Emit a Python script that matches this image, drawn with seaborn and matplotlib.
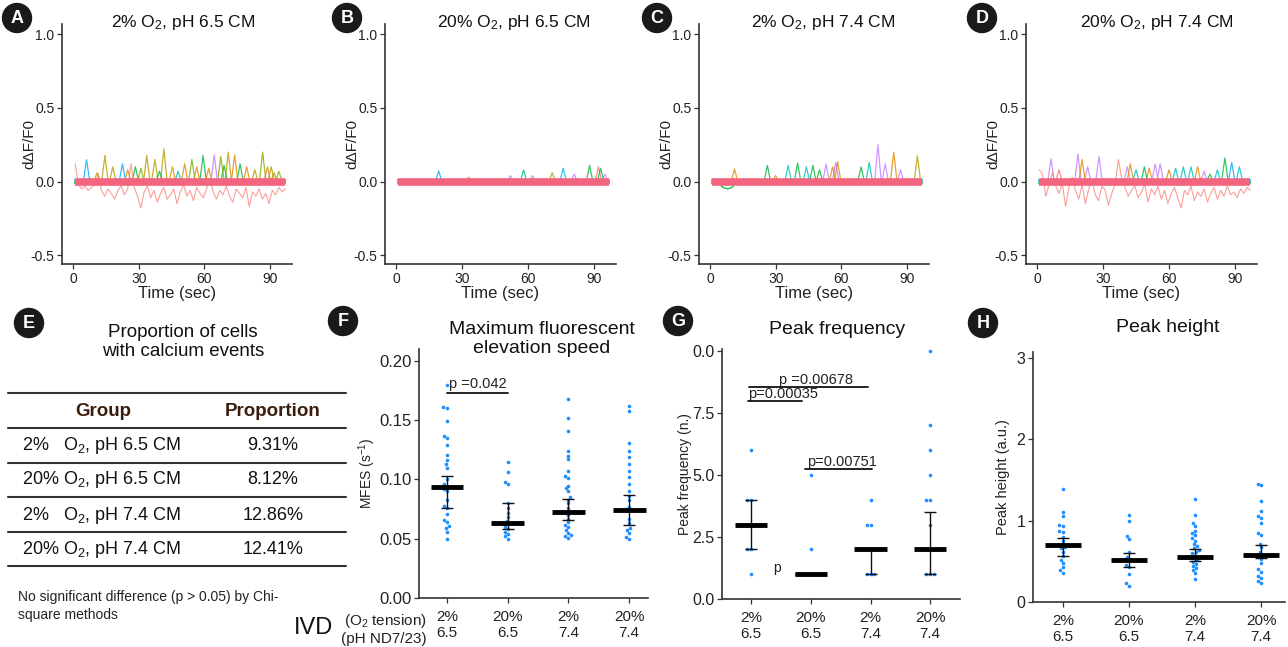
import numpy as np
import pandas as pd
import matplotlib
matplotlib.use("Agg")
import matplotlib.pyplot as plt
from matplotlib.patches import Circle
from matplotlib import font_manager
import seaborn as sns

# ---------------- data ----------------
trace_titles = ["2% O$_2$, pH 6.5 CM", "20% O$_2$, pH 6.5 CM", "2% O$_2$, pH 7.4 CM", "20% O$_2$, pH 7.4 CM"]
trace_letters = ["A", "B", "C", "D"]

# noisy salmon traces (A and D), sampled over 1..97 s
red_A = [0.12, -0.02, -0.05, -0.03, -0.06, -0.04, -0.02, 0.05, -0.06, -0.10, -0.05, -0.08, -0.12,
         -0.06, -0.03, -0.09, -0.05, 0.12, -0.04, -0.10, -0.18, -0.07, -0.03, -0.11, -0.06, -0.14,
         -0.08, -0.04, -0.12, -0.09, -0.05, -0.15, -0.07, -0.02, -0.10, -0.06, -0.13, -0.04, -0.08,
         -0.11, -0.05, 0.02, -0.07, -0.12, -0.06, -0.09, -0.03, -0.10, -0.14, -0.05, -0.08, -0.11,
         -0.04, -0.17, -0.07, -0.10, -0.05, -0.12, -0.08, -0.15, -0.06, -0.09, -0.04, -0.07, -0.05]
red_D = [0.08, 0.05, -0.10, -0.02, 0.06, -0.03, -0.08, -0.01, -0.17, -0.04, 0.03, -0.06, -0.12,
         -0.02, -0.15, -0.05, 0.01, -0.09, -0.13, -0.03, -0.06, -0.16, -0.08, -0.02, 0.15, 0.02,
         -0.04, -0.10, -0.06, -0.03, -0.11, -0.07, -0.02, -0.14, -0.05, -0.09, -0.03, -0.12, -0.06,
         -0.15, -0.08, -0.04, -0.11, -0.18, -0.06, -0.09, -0.03, -0.13, -0.07, -0.10, -0.05, -0.14,
         -0.08, -0.04, -0.12, -0.06, -0.10, -0.03, -0.09, -0.07, -0.11, -0.05, -0.08, -0.04, -0.06]

# calcium spikes: (time s, peak dF/F0, colour)
spikes_A = [(6.2, 0.148, "#00A9FF"), (14.6, 0.177, "#B79F00"), (18.2, 0.10, "#B79F00"),
            (22.6, 0.12, "#00A9FF"), (28.5, 0.10, "#00BA38"), (33.7, 0.177, "#B79F00"),
            (37.4, 0.15, "#B79F00"), (41.5, 0.222, "#B79F00"), (45.4, 0.10, "#E58700"),
            (51.0, 0.12, "#E58700"), (54.3, 0.15, "#7CAE00"), (56.5, 0.10, "#E58700"),
            (59.4, 0.177, "#00BA38"), (64.5, 0.18, "#C77CFF"), (67.5, 0.17, "#7CAE00"),
            (70.9, 0.20, "#B79F00"), (73.8, 0.18, "#E58700"), (76.3, 0.12, "#00BA38"),
            (79.3, 0.10, "#E58700"), (86.6, 0.20, "#7CAE00"), (88.8, 0.10, "#E58700"),
            (91.8, 0.06, "#B79F00"), (11.0, 0.06, "#B79F00"), (48.0, 0.07, "#00BFC4"),
            (25.0, 0.08, "#E58700"), (31.0, 0.09, "#7CAE00"), (39.5, 0.07, "#00BA38"),
            (62.0, 0.09, "#E58700"), (69.0, 0.11, "#00BA38"), (83.0, 0.08, "#B79F00"),
            (90.5, 0.10, "#B79F00"), (94.0, 0.07, "#7CAE00")]
spikes_B = [(19.4, 0.073, "#00B4F0"), (33.0, 0.03, "#F8766D"), (52.0, 0.04, "#C77CFF"),
            (58.0, 0.08, "#00C08B"), (62.0, 0.04, "#C77CFF"), (71.0, 0.06, "#B79F00"),
            (76.0, 0.09, "#00B4F0"), (81.0, 0.05, "#C77CFF"), (88.0, 0.11, "#00BA38"),
            (92.0, 0.10, "#F8766D"), (93.0, 0.09, "#00BA38"), (95.0, 0.05, "#C77CFF")]
spikes_C = [(11.2, 0.086, "#E58700"), (26.2, 0.11, "#00BA38"), (30.0, 0.04, "#E58700"),
            (35.7, 0.11, "#00BFC4"), (40.0, 0.125, "#00BA38"), (44.0, 0.10, "#00BFC4"),
            (47.0, 0.11, "#00BA38"), (50.0, 0.08, "#00BA38"), (53.0, 0.12, "#C77CFF"),
            (56.0, 0.10, "#B79F00"), (57.4, 0.13, "#F564E3"), (58.3, 0.135, "#B79F00"),
            (69.0, 0.10, "#00BA38"), (72.7, 0.13, "#00BFC4"), (76.7, 0.25, "#C77CFF"),
            (80.0, 0.12, "#C77CFF"), (83.9, 0.20, "#E58700"), (87.0, 0.08, "#C77CFF"),
            (94.7, 0.175, "#B79F00")]
spikes_D = [(6.4, 0.154, "#C77CFF"), (10.0, 0.08, "#F8766D"), (18.6, 0.188, "#C77CFF"),
            (20.5, 0.15, "#E58700"), (23.0, 0.10, "#C77CFF"), (28.2, 0.17, "#C77CFF"),
            (41.0, 0.10, "#C77CFF"), (42.4, 0.12, "#E58700"), (48.8, 0.10, "#00BA38"),
            (53.7, 0.12, "#C77CFF"), (56.0, 0.12, "#C77CFF"), (60.0, 0.08, "#E58700"),
            (66.5, 0.10, "#00BFC4"), (70.0, 0.10, "#00BFC4"), (73.0, 0.10, "#E58700"),
            (78.6, 0.05, "#00BA38"), (82.0, 0.08, "#00BFC4"), (85.4, 0.16, "#00BA38"),
            (88.5, 0.13, "#00A9FF"), (92.0, 0.10, "#00BFC4"), (45.0, 0.08, "#00BFC4"),
            (51.0, 0.09, "#E58700"), (63.0, 0.09, "#00BFC4"), (76.0, 0.07, "#C77CFF")]
spike_sets = [spikes_A, spikes_B, spikes_C, spikes_D]
red_sets = [red_A, None, None, red_D]
dip_C = [(3.0, 0.0), (6.0, -0.04), (8.0, -0.05), (10.0, -0.04), (12.0, -0.01)]

# E table
table_groups = ["2%   O$_2$, pH 6.5 CM", "20% O$_2$, pH 6.5 CM", "2%   O$_2$, pH 7.4 CM", "20% O$_2$, pH 7.4 CM"]
table_props = ["9.31%", "8.12%", "12.86%", "12.41%"]

# F, G, H groups
groups = ["2%\n6.5", "20%\n6.5", "2%\n7.4", "20%\n7.4"]

mfes_1 = [0.180, 0.161, 0.160, 0.149, 0.137, 0.135, 0.129, 0.121, 0.116, 0.113, 0.110, 0.100,
          0.096, 0.094, 0.092, 0.090, 0.083, 0.078, 0.076, 0.071, 0.066, 0.064, 0.061, 0.059,
          0.056, 0.050]
mfes_2 = [0.115, 0.106, 0.098, 0.096, 0.080, 0.076, 0.072, 0.068, 0.065, 0.063, 0.062, 0.060,
          0.058, 0.056, 0.054, 0.052, 0.050]
mfes_3 = [0.168, 0.152, 0.141, 0.124, 0.120, 0.117, 0.107, 0.103, 0.1015, 0.0945, 0.0926,
          0.0906, 0.0855, 0.083, 0.080, 0.076, 0.073, 0.072, 0.070, 0.067, 0.064, 0.0616,
          0.0597, 0.0574, 0.0551, 0.053, 0.052, 0.051]
mfes_4 = [0.162, 0.158, 0.1305, 0.124, 0.119, 0.113, 0.107, 0.102, 0.096, 0.0906, 0.0864,
          0.083, 0.077, 0.075, 0.073, 0.067, 0.063, 0.059, 0.057, 0.0546, 0.0517, 0.0498]
mfes_mid = [0.094, 0.063, 0.0726, 0.0745]
mfes_lo = [0.076, 0.058, 0.066, 0.0613]
mfes_hi = [0.103, 0.080, 0.0835, 0.0867]

freq_1 = [6, 4, 4, 3, 3, 3, 2, 2, 1]
freq_2 = [5, 2, 1, 1, 1, 1, 1, 1, 1, 1]
freq_3 = [4, 3, 3, 2, 2, 2, 2, 2, 2, 1, 1, 1]
freq_4 = [10, 7, 6, 5, 4, 4, 3, 2, 2, 2, 2, 2, 1, 1, 1]
freq_mid = [3, 1, 2, 2]
freq_lo = [2, 1, 1, 1]
freq_hi = [4, 1, 2, 3.5]

height_1 = [1.386, 1.103, 1.05, 0.947, 0.935, 0.877, 0.861, 0.803, 0.754, 0.701, 0.68, 0.66,
            0.619, 0.566, 0.517, 0.476, 0.427, 0.394, 0.361]
height_2 = [1.07, 1.0, 0.81, 0.77, 0.62, 0.55, 0.51, 0.455, 0.435, 0.344, 0.23, 0.197]
height_3 = [1.263, 1.07, 0.968, 0.935, 0.877, 0.853, 0.824, 0.783, 0.754, 0.713, 0.689, 0.66,
            0.64, 0.619, 0.599, 0.566, 0.557, 0.537, 0.517, 0.496, 0.467, 0.443, 0.414, 0.394,
            0.361, 0.279]
height_4 = [1.447, 1.431, 1.242, 1.119, 1.05, 1.03, 0.976, 0.845, 0.824, 0.713, 0.672, 0.619,
            0.578, 0.55, 0.525, 0.476, 0.402, 0.373, 0.32, 0.291, 0.262, 0.237]
height_mid = [0.697, 0.513, 0.557, 0.578]
height_lo = [0.566, 0.427, 0.508, 0.537]
height_hi = [0.783, 0.599, 0.652, 0.705]

# ---------------- style ----------------
sns.set_theme(style="ticks")
names = {f.name for f in font_manager.fontManager.ttflist}
MAIN = "Liberation Sans" if "Liberation Sans" in names else "DejaVu Sans"
NARROW = "Liberation Sans Narrow" if "Liberation Sans Narrow" in names else MAIN
plt.rcParams["font.family"] = [MAIN, "DejaVu Sans"]
plt.rcParams["mathtext.fontset"] = "custom"
plt.rcParams["mathtext.rm"] = MAIN
plt.rcParams["mathtext.it"] = MAIN
plt.rcParams["mathtext.default"] = "regular"

W, H = 1288, 647
fig = plt.figure(figsize=(W / 100, H / 100), dpi=100)
fig.patch.set_facecolor("white")

ov = fig.add_axes([0, 0, 1, 1])
ov.set_xlim(0, W)
ov.set_ylim(H, 0)
ov.axis("off")
ov.set_zorder(10)

DARK = "#222222"


def add_ax(l, r, t, b):
    a = fig.add_axes([l / W, 1 - b / H, (r - l) / W, (b - t) / H])
    a.patch.set_alpha(0)
    return a


def style_ax(ax, size):
    sns.despine(ax=ax)
    for s in ["left", "bottom"]:
        ax.spines[s].set_linewidth(1.2)
        ax.spines[s].set_color("#333333")
    ax.tick_params(direction="out", length=3.5, width=0.9, colors="#333333",
                   labelsize=size, labelcolor=DARK, pad=2)


def letter(x, y, s):
    ov.add_patch(Circle((x, y), 14.5, color="#1a1a1a", zorder=5))
    ov.text(x, y + 0.5, s, color="white", fontsize=13, fontweight="bold",
            ha="center", va="center", zorder=6)


# ---------------- top row: traces ----------------
top_lr = [(62, 292), (385, 616), (699, 929), (1026, 1257)]
title_x = [183, 514, 823, 1157]
letter_x = [17, 347, 657, 982]
for i in range(4):
    l, r = top_lr[i]
    ax = add_ax(l, r, 24, 264)
    ax.plot([1, 97], [-0.012, -0.012], color="#00BA38", lw=1.6, alpha=0.8, zorder=1)
    ax.plot([1, 97], [0.012, 0.012], color="#00A9FF", lw=1.6, alpha=0.8, zorder=1)
    by_col = {}
    for t, h, c in spike_sets[i]:
        by_col.setdefault(c, []).append((t, h))
    for c, lst in by_col.items():
        lst.sort()
        xs, ys = [1.0], [0.0]
        for t, h in lst:
            xs += [t - 1.5, t, t + 1.5]
            ys += [0.0, h, 0.0]
        xs.append(97.0)
        ys.append(0.0)
        ax.plot(xs, ys, color=c, lw=0.9, alpha=0.8, zorder=2)
    if i == 2:
        ax.plot([p[0] for p in dip_C], [p[1] for p in dip_C], color="#00BA38", lw=0.9, zorder=2)
    if red_sets[i] is not None:
        vals = red_sets[i]
        tt = np.linspace(1, 97, len(vals))
        sns.lineplot(x=tt, y=vals, ax=ax, color="#F8766D", lw=0.8, alpha=0.7, zorder=2)
    ax.plot([1, 97], [0, 0], color="#F3657F", lw=5.5, solid_capstyle="butt", zorder=3)
    ax.set_xlim(-5, 100)
    ax.set_ylim(-0.56, 1.07)
    ax.set_xticks([0, 30, 60, 90])
    ax.set_yticks([-0.5, 0.0, 0.5, 1.0])
    ax.set_yticklabels(["-0.5", "0.0", "0.5", "1.0"])
    style_ax(ax, 10)
    ax.set_xlabel("Time (sec)", fontsize=12, family=NARROW, color=DARK, labelpad=0)
    ax.set_ylabel("d\u0394F/F0", fontsize=11, color=DARK)
    ax.yaxis.set_label_coords(-0.113, 0.5)
    ov.text(title_x[i], 22, trace_titles[i], fontsize=12.5, ha="center", va="center", color="#111111")
    letter(letter_x[i], 18, trace_letters[i])

# ---------------- E: table ----------------
letter(29, 323, "E")
ov.text(183, 342, "Proportion of cells\nwith calcium events", fontsize=13.5, ha="center",
        va="center", color="#111111", linespacing=1.2)
for yy in [393, 428, 463, 497, 532, 566]:
    ov.plot([8, 346], [yy, yy], color="#333333", lw=1.5)
ov.text(103, 411, "Group", fontsize=13.5, fontweight="bold", color="#3b1d0e", ha="center", va="center")
ov.text(273, 411, "Proportion", fontsize=13.5, fontweight="bold", color="#3b1d0e", ha="center", va="center")
row_y = [446, 480, 515, 549]
for gname, prop, yy in zip(table_groups, table_props, row_y):
    ov.text(102, yy, gname, fontsize=13, ha="center", va="center", color="#111111")
    ov.text(273, yy, prop, fontsize=13, ha="center", va="center", color="#111111")
ov.text(18, 606, "No significant difference (p > 0.05) by Chi-\nsquare methods", fontsize=10,
        family=NARROW, ha="left", va="center", color=DARK, linespacing=1.35)

# ---------------- F, G, H ----------------
dot_color = "#1E8FFF"


def dot_panel(ax, series, mid, lo, hi):
    df = pd.DataFrame({"group": np.concatenate([[g] * len(s) for g, s in zip(groups, series)]),
                       "value": np.concatenate(series)})
    sns.swarmplot(data=df, x="group", y="value", order=groups, color=dot_color, size=2.6,
                  ax=ax, zorder=2, warn_thresh=1)
    xs = np.arange(len(groups))
    mid, lo, hi = np.array(mid), np.array(lo), np.array(hi)
    ax.errorbar(xs, mid, yerr=[mid - lo, hi - mid], fmt="none", ecolor="#111111",
                elinewidth=1.0, capsize=4, capthick=1.0, zorder=3)
    ax.hlines(mid, xs - 0.27, xs + 0.27, color="black", lw=3.5, zorder=4)
    ax.set_xlabel("")


# F
axF = add_ax(419, 648, 349, 598)
dot_panel(axF, [mfes_1, mfes_2, mfes_3, mfes_4], mfes_mid, mfes_lo, mfes_hi)
axF.set_xlim(-0.46, 3.31)
axF.set_ylim(0, 0.21)
axF.set_yticks([0, 0.05, 0.10, 0.15, 0.20])
axF.set_yticklabels(["0.00", "0.05", "0.10", "0.15", "0.20"])
style_ax(axF, 12)
axF.tick_params(axis="x", labelsize=11, pad=5)
axF.set_ylabel("MFES (s$^{-1}$)", fontsize=10, color=DARK)
axF.yaxis.set_label_coords(-0.179, 0.5)
axF.plot([0, 1], [0.1733, 0.1733], color="#111111", lw=1.3, zorder=5)
axF.text(0.03, 0.1745, "p =0.042", fontsize=10.5, ha="left", va="bottom", color=DARK)
letter(343, 321, "F")
ov.text(542, 339, "Maximum fluorescent\nelevation speed", fontsize=14, ha="center", va="center",
        color="#111111", linespacing=1.15)
ov.text(333, 628, "IVD", fontsize=17, ha="right", va="center", color="#111111")
ov.text(427, 629, "(O$_2$ tension)\n(pH ND7/23)", fontsize=11, ha="right", va="center",
        color=DARK, linespacing=1.15)

# G
axG = add_ax(722, 960, 349, 599)
dot_panel(axG, [freq_1, freq_2, freq_3, freq_4], freq_mid, freq_lo, freq_hi)
axG.set_xlim(-0.49, 3.5)
axG.set_ylim(0, 10.08)
axG.set_yticks([0, 2.5, 5.0, 7.5, 10.0])
axG.set_yticklabels(["0.0", "2.5", "5.0", "7.5", "0.0"])
style_ax(axG, 11.5)
axG.tick_params(axis="x", labelsize=11, pad=5)
axG.set_ylabel("Peak frequency (n.)", fontsize=10, color=DARK)
axG.yaxis.set_label_coords(-0.126, 0.5)
brackets_G = [(-0.03, 1.96, 8.54, 0.46, "p =0.00678"),
              (-0.05, 0.85, 7.98, -0.06, "p=0.00035"),
              (0.90, 2.02, 5.23, 0.93, "p=0.00751")]
for x0, x1, yy, tx, lab in brackets_G:
    axG.plot([x0, x1], [yy, yy], color="#111111", lw=1.3, zorder=5)
    axG.text(tx, yy + 0.02, lab, fontsize=10.5, ha="left", va="bottom", color=DARK)
axG.text(0.43, 1.25, "p", fontsize=10, ha="center", va="center", color=DARK)
letter(678, 321, "G")
ov.text(837, 330, "Peak frequency", fontsize=14, ha="center", va="center", color="#111111")

# H
axH = add_ax(1033, 1285, 352, 602)
dot_panel(axH, [height_1, height_2, height_3, height_4], height_mid, height_lo, height_hi)
axH.set_xlim(-0.45, 3.36)
axH.set_ylim(0, 3.07)
axH.set_yticks([0, 1, 2, 3])
style_ax(axH, 11.5)
axH.tick_params(axis="x", labelsize=11, pad=5)
axH.set_ylabel("Peak height (a.u.)", fontsize=10.5, color=DARK)
axH.yaxis.set_label_coords(-0.091, 0.5)
letter(983, 323, "H")
ov.text(1168, 328, "Peak height", fontsize=14, ha="center", va="center", color="#111111")

fig.savefig("out.png", dpi=100, facecolor="white")
